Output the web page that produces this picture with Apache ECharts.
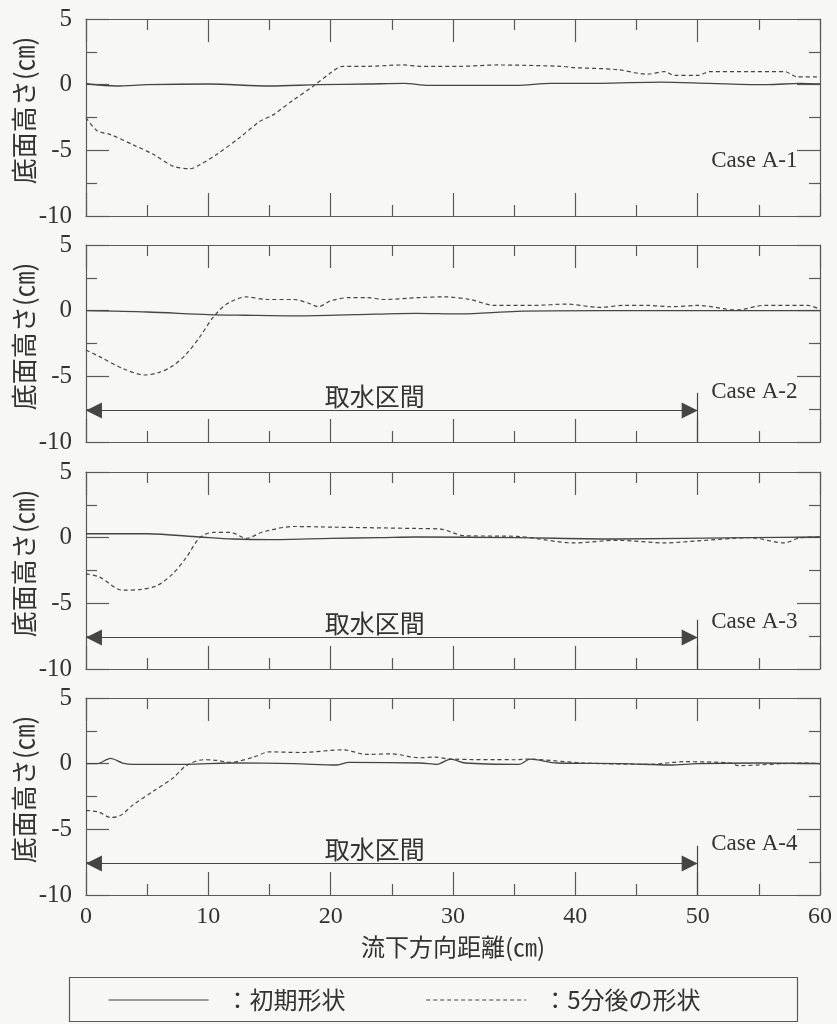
<!DOCTYPE html>
<html><head><meta charset="utf-8">
<script src="https://cdn.jsdelivr.net/npm/echarts@6/dist/echarts.min.js"></script>
<style>html,body{margin:0;padding:0;background:#f7f7f5}#c{width:837px;height:1024px}</style>
</head><body><div id="c"></div>
<script>
// ---- data (x: 流下方向距離 cm, y: 底面高さ cm) ----
const caseNames = ['Case A-1', 'Case A-2', 'Case A-3', 'Case A-4'];
const seriesNames = ['初期形状', '5分後の形状'];
const xTicks = [0, 10, 20, 30, 40, 50, 60];
const yTicks = [-10, -5, 0, 5];

const a1Init = [[0,0.07],[2.5,-0.1],[5,0],[10,0.05],[15,-0.1],[19,0],[23,0.05],[26,0.1],[28,-0.05],[32,-0.05],[35.2,-0.05],[38,0.1],[42,0.1],[47,0.2],[51,0.1],[55.7,0],[58.4,0.1],[60,0.05]];
const a1After = [[0,-2.5],[0.9,-3.5],[2,-3.8],[3.9,-4.6],[5.5,-5.3],[7.1,-6.2],[8.5,-6.4],[9.3,-6.1],[10.7,-5.3],[12.6,-4.0],[14.2,-2.8],[15.3,-2.3],[16.9,-1.2],[18.6,-0.1],[20,0.9],[21,1.4],[23,1.4],[25.9,1.5],[27.3,1.4],[30.6,1.4],[33.6,1.5],[38.8,1.4],[39.9,1.3],[43.4,1.15],[45.9,0.8],[47.3,1.0],[48.1,0.7],[50,0.7],[51,1.0],[54.3,1.0],[57.1,1.0],[58.1,0.6],[60,0.6]];

const a2Init = [[0,0],[5,-0.1],[10,-0.3],[13,-0.35],[17,-0.4],[22,-0.3],[27,-0.2],[30.6,-0.25],[35.2,-0.05],[42,0],[50,0],[60,0]];
const a2After = [[0,-3.0],[1.1,-3.5],[3.0,-4.4],[4.8,-4.9],[6.0,-4.7],[7.1,-4.2],[8.2,-3.3],[9.3,-2.0],[10.4,-0.5],[11.5,0.5],[13.1,1.05],[14.8,0.85],[17,0.85],[18.1,0.6],[19,0.3],[20,0.75],[21.6,1.0],[23,1.0],[24.3,0.85],[27.3,1.0],[29.3,1.05],[31.4,0.85],[33.4,0.4],[36.6,0.4],[39.3,0.5],[42,0.25],[44,0.4],[45.9,0.4],[47.8,0.3],[50,0.4],[53.2,0.05],[55.4,0.4],[59,0.4],[60,0.1]];

const a3Init = [[0,0.3],[5,0.3],[9.3,0.05],[12,-0.1],[15,-0.15],[20,-0.05],[24,0],[27,0.05],[35.2,0],[43.4,-0.1],[54.3,0],[60,0.05]];
const a3After = [[0,-2.75],[1.1,-3.0],[3,-4.0],[4.4,-3.95],[5.8,-3.65],[7.1,-2.75],[8.2,-1.5],[9.3,0],[10.4,0.4],[11.8,0.4],[13.1,-0.05],[14.5,0.45],[17,0.85],[20.2,0.8],[27,0.7],[29,0.65],[30.9,0.15],[35.2,0.1],[39.9,-0.4],[43.4,-0.2],[47.3,-0.4],[50,-0.25],[54.3,0],[57.1,-0.4],[58.4,0],[60,0.05]];

const a4Init = [[0,0],[0.9,0],[2,0.4],[3,0.05],[3.9,-0.05],[8.2,-0.05],[11.8,0.05],[17,0],[20.5,-0.1],[21.5,0.1],[27.3,0.05],[28.7,-0.05],[29.8,0.35],[31,0.05],[35.4,-0.05],[36.3,0.35],[38.5,0.05],[43.9,0],[47.7,-0.1],[50,0],[55,0.05],[60,0]];
const a4After = [[0,-3.55],[1.1,-3.7],[2,-4.1],[2.8,-3.95],[3.9,-3.1],[5.5,-2.1],[7.1,-1.1],[8.2,-0.15],[9.6,0.3],[10.7,0.25],[11.8,0.1],[13.7,0.5],[15,0.9],[17.5,0.85],[21,1.05],[23,0.7],[24.9,0.75],[27.3,0.45],[28.5,0.5],[29.8,0.35],[35.2,0.3],[35.9,0.35],[40.7,0.05],[46.1,-0.05],[48.9,0.15],[52.7,0.05],[53.3,-0.15],[58.5,0.05],[60,0]];

const initData = [a1Init, a2Init, a3Init, a4Init];
const afterData = [a1After, a2After, a3After, a4After];
// intake section annotation (取水区間) for panels 2-4
const intake = [null, [0, 50], [0, 50], [0, 50]];

// ---- layout ----
const gridTops = [19, 245, 472, 698];
const gridH = 197;
const INK = '#454545';
const AX = '#5a5a5a';
const SERIF = '"Liberation Serif","DejaVu Serif",serif';
const CJK = '"Noto Sans CJK JP","Noto Sans",sans-serif';
const ARROW_INSET = 0.65; // half arrow-head length in x units, so tips touch the ends

const grids = [], xAxes = [], yAxes = [], series = [];
gridTops.forEach((t, i) => {
  grids.push({left: 86, right: 17, top: t, height: gridH, containLabel: false, outerBoundsMode: 'none'});
  const tickBase = {show: true, inside: true, length: 23, lineStyle: {color: AX, width: 1.2}};
  const minor = {show: true, splitNumber: 2, length: 11, lineStyle: {color: AX, width: 1.2}};
  const axLine = {show: true, onZero: false, lineStyle: {color: AX, width: 1.2}};
  const isLast = i === 3;
  xAxes.push({
    type: 'value', gridIndex: i, min: xTicks[0], max: xTicks[xTicks.length - 1], interval: 10,
    position: 'bottom', axisLine: axLine, axisTick: tickBase, minorTick: minor,
    splitLine: {show: false},
    axisLabel: {show: isLast, color: '#333', fontFamily: SERIF, fontSize: 24, margin: 10},
    name: isLast ? '流下方向距離(㎝)' : '', nameLocation: 'middle', nameGap: 40,
    nameMoveOverlap: false,
    nameTextStyle: {color: '#333', fontFamily: CJK, fontSize: 24}
  });
  xAxes.push({
    type: 'value', gridIndex: i, min: 0, max: 60, interval: 10, position: 'top',
    axisLine: axLine, axisTick: tickBase, minorTick: minor, splitLine: {show: false},
    axisLabel: {show: false}
  });
  yAxes.push({
    type: 'value', gridIndex: i, min: yTicks[0], max: yTicks[yTicks.length - 1], interval: 5,
    position: 'left', axisLine: axLine, axisTick: tickBase, minorTick: minor,
    splitLine: {show: false},
    axisLabel: {color: '#333', fontFamily: SERIF, fontSize: 25, margin: 14},
    name: '底面高さ(㎝)', nameLocation: 'middle', nameGap: 49, nameRotate: 90,
    nameMoveOverlap: false,
    nameTextStyle: {color: '#333', fontFamily: CJK, fontSize: 26, padding: [0, 0, 0, 14]}
  });
  yAxes.push({
    type: 'value', gridIndex: i, min: -10, max: 5, interval: 5, position: 'right',
    axisLine: axLine, axisTick: tickBase, minorTick: minor, splitLine: {show: false},
    axisLabel: {show: false}
  });

  const mp = [{
    coord: [58.2, [-5.8, -6.2, -6.4, -6.1][i]],
    label: {show: true, position: 'left', distance: 0, formatter: caseNames[i],
      color: '#333', fontFamily: SERIF, fontSize: 23}
  }];
  const mlData = [];
  if (intake[i]) {
    const [a, b] = intake[i];
    mp.push({
      coord: [23.6, -6.55],
      label: {show: true, position: 'inside', formatter: '取水区間',
        color: '#333', fontFamily: CJK, fontSize: 25}
    });
    mlData.push([{coord: [a, -7.6], symbol: 'none'}, {coord: [b, -7.6], symbol: 'none'}]);
    mlData.push([{coord: [a + ARROW_INSET, -7.6]}, {coord: [b - ARROW_INSET, -7.6]}]);
    mlData.push([{coord: [b, -6.25], symbol: 'none'}, {coord: [b, -10], symbol: 'none'}]);
  }
  series.push({
    name: seriesNames[0], type: 'line', xAxisIndex: 2 * i, yAxisIndex: 2 * i,
    data: initData[i], symbol: 'none', smooth: 0.3, silent: true,
    lineStyle: {color: INK, width: 1.3, type: 'solid'}, itemStyle: {color: INK},
    markPoint: {symbol: 'circle', symbolSize: 1, itemStyle: {color: 'rgba(0,0,0,0)'},
      silent: true, animation: false, data: mp},
    markLine: {silent: true, animation: false, symbol: ['triangle', 'triangle'],
      symbolSize: 16,
      lineStyle: {color: INK, width: 1.2, type: 'solid'}, itemStyle: {color: INK},
      label: {show: false}, emphasis: {disabled: true}, data: mlData}
  });
  series.push({
    name: seriesNames[1], type: 'line', xAxisIndex: 2 * i, yAxisIndex: 2 * i,
    data: afterData[i], symbol: 'none', smooth: 0.3, silent: true,
    lineStyle: {color: INK, width: 1.2, type: [4, 3]}, itemStyle: {color: INK}
  });
});

const chart = echarts.init(document.getElementById('c'), null, {renderer: 'canvas'});
chart.setOption({
  backgroundColor: '#f7f7f5',
  animation: false,
  grid: grids, xAxis: xAxes, yAxis: yAxes, series: series,
  legend: {
    data: seriesNames, left: 108, top: 988, itemWidth: 100, itemHeight: 24, itemGap: 80,
    selectedMode: false, padding: 0,
    itemStyle: {opacity: 0, color: 'rgba(0,0,0,0)', borderWidth: 0},
    lineStyle: {width: 1.2},
    formatter: n => '：' + n,
    textStyle: {color: '#333', fontFamily: CJK, fontSize: 24, padding: [0, 0, 0, 12]}
  },
  graphic: [{
    type: 'rect', shape: {x: 69.5, y: 977.5, width: 728, height: 44},
    style: {fill: 'none', stroke: AX, lineWidth: 1.2}, silent: true, z: 10
  }]
});
</script></body></html>
